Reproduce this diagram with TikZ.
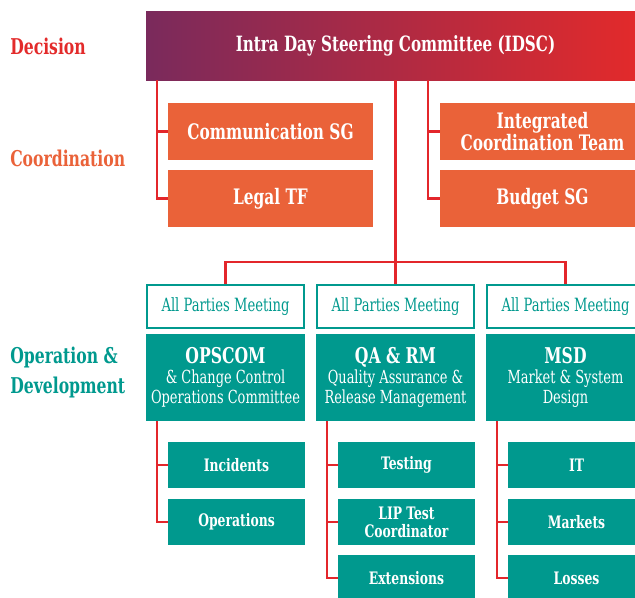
\documentclass[tikz,border=0pt]{standalone}
\usepackage{fontspec}
\setmainfont{DejaVu Serif Condensed}[FakeStretch=0.8]
\definecolor{hdrL}{HTML}{7A2A5C}
\definecolor{hdrR}{HTML}{E42A2A}
\definecolor{orng}{HTML}{EA6239}
\definecolor{teal}{HTML}{00998E}
\definecolor{redline}{HTML}{E3262B}
\definecolor{declab}{HTML}{E32B2B}
\tikzset{
  conn/.style={draw=redline, line width=1.9pt},
  orbox/.style={fill=orng, text=white, font=\bfseries\fontsize{16}{17}\selectfont, align=center,
    minimum width=153.75pt, minimum height=42.75pt, inner sep=0pt},
  apmbox/.style={draw=teal, line width=1.5pt, fill=white, text=teal, font=\fontsize{13.7}{15}\selectfont,
    minimum width=118pt, minimum height=32.5pt, inner sep=0pt},
  tealbox/.style={fill=teal, text=white, align=center, font=\fontsize{13.5}{15}\selectfont,
    minimum width=119.25pt, minimum height=65.25pt, inner sep=0pt},
  subbox/.style={fill=teal, text=white, align=center, font=\bfseries\fontsize{12.9}{13.5}\selectfont,
    minimum width=102.75pt, minimum height=34.5pt, inner sep=0pt},
  sidelab/.style={anchor=west, align=left, font=\bfseries\fontsize{16.3}{22.5}\selectfont, inner sep=0pt}
}
\begin{document}
\begin{tikzpicture}[x=0.75pt,y=-0.75pt]
\useasboundingbox (0,0) rectangle (635,597);
\clip (0,0) rectangle (635,597);
% side labels
\node[sidelab, text=declab] (ldec) at (10,46) {Decision};
\node[sidelab, text=orng] (lcoord) at (10,158) {Coordination};
\node[sidelab, text=teal] (lop) at (10,372) {Operation \&\\Development};
% header
\node[left color=hdrL, right color=hdrR, text=white, font=\bfseries\fontsize{15.8}{18}\selectfont,
  minimum width=374.25pt, minimum height=51.75pt, inner sep=0pt] (h) at (395.5,45.5)
  {Intra Day Steering Committee (IDSC)};
% coordination
\node[orbox] (c1) at (270.5,131.5) {Communication SG};
\node[orbox] (c2) at (270.5,198.5) {Legal TF};
\node[orbox] (c3) at (542.5,131.5) {Integrated\\Coordination Team};
\node[orbox] (c4) at (542.5,198.5) {Budget SG};
\coordinate (L1) at (157,80);
\coordinate (R1) at (428,80);
\draw[conn] (L1) |- (c2.west);
\draw[conn] (L1 |- c1.west) -- (c1.west);
\draw[conn] (R1) |- (c4.west);
\draw[conn] (R1 |- c3.west) -- (c3.west);
% all parties meetings
\node[apmbox] (a1) at (225.5,306.5) {All Parties Meeting};
\node[apmbox] (a2) at (395.5,306.5) {All Parties Meeting};
\node[apmbox] (a3) at (565.5,306.5) {All Parties Meeting};
\coordinate (bar) at (395.5,262);
\draw[conn] (h.south) -- (a2.north);
\draw[conn] (a1.north) |- (bar) -| (a3.north);
% teal boxes
\node[tealbox] (t1) at (225.5,377.5) {{\bfseries\fontsize{16.3}{18}\selectfont OPSCOM}\\[0pt]\& Change Control\\Operations Committee};
\node[tealbox] (t2) at (395.5,377.5) {{\bfseries\fontsize{16.3}{18}\selectfont QA \& RM}\\[0pt]Quality Assurance \&\\Release Management};
\node[tealbox] (t3) at (565.5,377.5) {{\bfseries\fontsize{16.3}{18}\selectfont MSD}\\[0pt]Market \& System\\Design};
% sub boxes
\node[subbox] (s11) at (236.5,465) {Incidents};
\node[subbox] (s12) at (236.5,522) {Operations};
\node[subbox] (s21) at (406.5,465) {Testing};
\node[subbox] (s22) at (406.5,522) {LIP Test\\Coordinator};
\node[subbox] (s23) at (406.5,578) {Extensions};
\node[subbox] (s31) at (576.5,465) {IT};
\node[subbox] (s32) at (576.5,522) {Markets};
\node[subbox] (s33) at (576.5,578) {Losses};
\coordinate (T1) at (157,421);
\coordinate (T2) at (327,421);
\coordinate (T3) at (497,421);
\draw[conn] (T1) |- (s12.west);
\draw[conn] (T1 |- s11.west) -- (s11.west);
\draw[conn] (T2) |- (s23.west);
\draw[conn] (T2 |- s21.west) -- (s21.west);
\draw[conn] (T2 |- s22.west) -- (s22.west);
\draw[conn] (T3) |- (s33.west);
\draw[conn] (T3 |- s31.west) -- (s31.west);
\draw[conn] (T3 |- s32.west) -- (s32.west);
\end{tikzpicture}
\end{document}
